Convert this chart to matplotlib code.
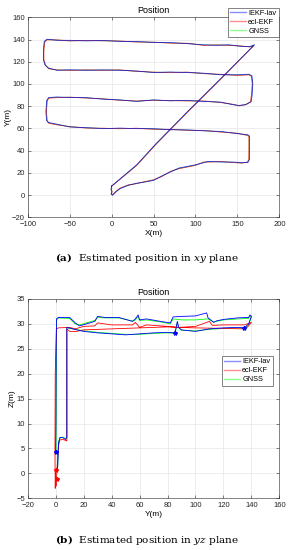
import matplotlib
matplotlib.use("Agg")
import matplotlib.pyplot as plt

plt.rcParams['font.family'] = ['Liberation Sans', 'DejaVu Sans']
plt.rcParams['mathtext.fontset'] = 'dejavuserif'

# ---------------- XY plane data ----------------
gnss_x = [0, -0.5, 0.5, -0.5, 1, 5, 10, 20, 30, 40, 50, 60, 70, 80, 90, 100, 110, 115, 130, 145, 155, 162, 164, 164, 164, 162,
          150, 130, 110, 90, 70, 50, 30, 10, -10, -30, -50, -65, -75, -77, -78, -77, -75, -65, -50, -30, -10, 10, 30, 50, 70, 90,
          110, 130, 145, 152, 160, 166, 167, 168, 167, 164, 150, 130, 110, 90, 70, 50, 30, 10, -10, -30, -50, -65, -75, -79, -81,
          -81, -80, -77, -65, -50, -30, -10, 10, 30, 50, 70, 90, 110, 125, 140, 155, 165, 170, 130, 90, 53, 30, 0]
gnss_y = [8, 5, 3, 1, 0, 3, 6, 9, 10.5, 12, 13.5, 17, 21, 24, 25.5, 27, 29.5, 30, 30, 29.5, 29, 29.5, 32, 45, 53, 54,
          55.5, 57, 58, 58.5, 59, 59.5, 60, 60, 60, 60.5, 61.5, 63.5, 65, 67, 75, 85, 87.5, 88, 88, 87.5, 86.5, 85.5, 84.5, 85.5, 85, 85,
          84.5, 83.5, 81.5, 80.5, 81.5, 84, 90, 100, 107, 108.5, 108, 108.5, 109.5, 110.5, 110.5, 110.5, 111.5, 112.5, 112.5, 112.5, 112.5, 112.5, 114, 117, 122,
          130, 138, 140, 139.5, 139, 139, 139, 138.5, 138, 137.5, 137, 136.5, 135, 135, 135, 134, 133.5, 135, 104.5, 74.5, 46, 27, 8]

iekf_x = [0, -0.6, 0.4, -0.4, 1.2, 5, 10, 20, 30, 40, 50, 60, 70, 80, 90, 100, 110, 115, 130, 145, 155, 162.5, 164.5, 164.5, 164.3, 162,
          150, 130, 110, 90, 70, 50, 30, 10, -10, -30, -50, -65, -75, -77.5, -78.3, -77.3, -75, -65, -50, -30, -10, 10, 30, 50, 70, 90,
          110, 130, 145, 152, 160, 166.5, 167.5, 168.3, 167.3, 164, 150, 130, 110, 90, 70, 50, 30, 10, -10, -30, -50, -65, -75, -79.5, -81.3,
          -81.3, -80.3, -77, -65, -50, -30, -10, 10, 30, 50, 70, 90, 110, 125, 140, 155, 165, 170.3, 130, 90, 53, 30, 0.3]
iekf_y = [8.3, 5.2, 2.8, 1.2, -0.2, 2.7, 5.8, 8.8, 10.7, 11.8, 13.2, 17.3, 20.7, 24.3, 25.8, 27.3, 29.2, 30.3, 29.8, 29.7, 29.3, 29.3, 32.5, 45, 53.3, 54.4,
          55.3, 57.3, 57.8, 58.7, 58.8, 59.8, 59.8, 60.3, 59.8, 60.7, 61.3, 63.8, 65.3, 67.2, 75, 85.3, 87.8, 88.3, 87.8, 87.7, 86.3, 85.7, 84.3, 85.7, 84.8, 85.3,
          84.3, 83.7, 81.3, 80.7, 81.3, 84.3, 90, 100, 107.3, 108.8, 108.3, 108.3, 109.7, 110.3, 110.8, 110.3, 111.7, 112.3, 112.7, 112.3, 112.8, 112.3, 114.3, 117.3, 122,
          130, 138.3, 140.3, 139.3, 139.3, 138.8, 139.2, 138.3, 138.3, 137.3, 137.3, 136.3, 135.3, 134.8, 135.3, 133.8, 133.7, 135.3, 104.8, 74.8, 46.3, 27.3, 8.3]

ecl_x = [0, -0.4, 0.6, -0.6, 0.8, 5, 10, 20, 30, 40, 50, 60, 70, 80, 90, 100, 110, 115, 130, 145, 155, 161.5, 163.5, 163.7, 163.7, 162,
         150, 130, 110, 90, 70, 50, 30, 10, -10, -30, -50, -65, -75, -76.7, -77.7, -76.7, -75, -65, -50, -30, -10, 10, 30, 50, 70, 90,
         110, 130, 145, 152, 160, 165.5, 166.7, 167.7, 166.7, 164, 150, 130, 110, 90, 70, 50, 30, 10, -10, -30, -50, -65, -75, -78.7, -80.7,
         -80.7, -79.7, -77, -65, -50, -30, -10, 10, 30, 50, 70, 90, 110, 125, 140, 155, 165, 169.7, 130, 90, 53, 30, -0.3]
ecl_y = [7.8, 4.8, 3.2, 0.8, 0.2, 3.3, 6.2, 9.2, 10.3, 12.2, 13.8, 16.7, 21.3, 23.7, 25.2, 26.7, 29.8, 29.7, 30.2, 29.3, 28.7, 29.7, 31.7, 45, 52.7, 53.6,
         55.7, 56.7, 58.2, 58.3, 59.2, 59.2, 60.2, 59.7, 60.2, 60.3, 61.7, 63.2, 64.7, 66.8, 75, 84.7, 87.2, 87.7, 88.2, 87.3, 86.7, 85.3, 84.7, 85.3, 85.2, 84.7,
         84.7, 83.3, 81.7, 80.3, 81.7, 83.7, 90, 100, 106.7, 108.2, 107.7, 108.7, 109.3, 110.7, 110.2, 110.7, 111.3, 112.7, 112.3, 112.7, 112.2, 112.7, 113.7, 116.7, 122,
         130, 137.7, 139.7, 139.7, 138.7, 139.2, 138.8, 138.7, 137.7, 137.7, 136.7, 136.7, 134.7, 135.2, 134.7, 134.2, 133.3, 134.7, 104.2, 74.2, 45.7, 26.7, 7.7]

# ---------------- YZ plane data ----------------
iekf_yy = [0.0, 0.2, 0.4, 0.6, 2, 10, 14, 17, 22, 28, 30, 35, 45, 55, 57, 59, 60, 65, 75, 82, 84, 90, 100, 108, 109, 110, 113, 115, 120, 130, 138, 139, 140,
           138, 135, 130, 120, 110, 100, 90, 88, 87, 86, 85, 80, 70, 60, 50, 40, 30, 20, 15, 8,
           8, 7, 5, 3, 2, 1.5, 1]
iekf_zz = [4.2, 10, 25, 31.0, 31.3, 31.3, 30.2, 29.6, 30.0, 30.5, 31.5, 31.3, 31.3, 30.5, 31.0, 31.8, 30.8, 31.0, 30.5, 30.2, 31.4, 31.5, 31.6, 32.2, 31.2, 31.0, 30.3, 30.6, 30.9, 31.2, 31.3, 31.8, 31.5,
           30.0, 29.2, 29.3, 29.2, 29.0, 28.5, 28.8, 29.3, 30.5, 29.0, 28.2, 28.3, 28.2, 28.0, 27.8, 28.0, 28.2, 28.5, 28.8, 29.3,
           7.3, 6.8, 7.2, 7.2, 6.0, 1.5, 0.8]

ecl_yy = [0.0, -0.3, -0.5, -0.3, 0.5, 2, 10, 14, 20, 28, 30, 40, 55, 57, 60, 65, 80, 88, 100, 108, 110, 112, 120, 135, 140,
          137, 135, 120, 100, 88, 80, 60, 40, 20, 15, 10, 8,
          8, 7.5, 5, 3, 2, 1, 0.5, 0.6]
ecl_zz = [0.5, -3.0, 5, 20, 29.0, 29.2, 29.3, 29.0, 29.5, 29.6, 30.2, 29.8, 29.8, 30.3, 29.3, 29.8, 29.5, 29.3, 29.5, 30.3, 30.5, 29.7, 29.8, 29.8, 30.3,
          29.3, 29.0, 29.1, 29.2, 29.3, 29.4, 29.2, 29.0, 28.8, 28.5, 28.5, 29.0,
          6.5, 6.6, 6.8, 6.7, 5.5, 1.0, -1.2, -2.5]

gnss_yy = [0.3, 0.4, 0.5, 0.7, 2, 10, 14, 17, 22, 28, 30, 35, 45, 55, 57, 59, 60, 65, 75, 82, 84, 90, 100, 108, 109, 110, 113, 115, 120, 130, 138, 139, 140,
           138, 135, 130, 120, 110, 100, 90, 88, 87, 86, 85, 80, 70, 60, 50, 40, 30, 20, 15, 8,
           8, 7, 5, 3, 2, 1.5, 1]
gnss_zz = [4.0, 12, 26, 30.8, 31.2, 31.1, 30.0, 29.8, 30.2, 30.7, 31.3, 31.2, 31.2, 30.6, 30.8, 31.5, 30.7, 30.8, 30.4, 30.0, 31.0, 30.8, 30.8, 31.0, 31.0, 30.8, 30.4, 30.5, 30.8, 31.0, 31.1, 31.6, 31.4,
           29.8, 29.1, 29.2, 29.1, 28.9, 28.6, 28.7, 29.2, 30.2, 28.9, 28.1, 28.2, 28.1, 27.9, 27.9, 28.1, 28.3, 28.6, 28.9, 29.2,
           7.0, 7.0, 7.3, 7.0, 6.2, 1.6, 1.0]

iekf_mark_y = [0.0, 85.5, 135]
iekf_mark_z = [4.2, 28.2, 29.2]
ecl_mark_y = [0.0, 0.8]
ecl_mark_z = [0.6, -1.2]

labels = ['IEKF-lav', 'ecl-EKF', 'GNSS']
colors = ['#0000ff', '#ff0000', '#00ff00']

fig = plt.figure(figsize=(2.93, 5.5), dpi=100)

def style(ax):
    ax.grid(True, color='#e6e6e6', linewidth=0.5)
    ax.set_axisbelow(True)
    ax.tick_params(direction='in', length=2, width=0.4, labelsize=5.5, colors='#262626')
    ax.tick_params(axis='x', pad=3)
    ax.tick_params(axis='y', pad=2)
    for s in ax.spines.values():
        s.set_linewidth(0.4)
        s.set_color('#262626')
    ax.tick_params(top=True, right=True, labeltop=False, labelright=False)

def legend(ax, x, y):
    h, l = ax.get_legend_handles_labels()
    leg = ax.legend(h[:3], l[:3], loc='upper right', bbox_to_anchor=(x / 293, 1 - y / 550), bbox_transform=fig.transFigure,
                    fontsize=5.3, frameon=True, fancybox=False, borderpad=0.3, handlelength=2.2, handletextpad=0.3,
                    labelspacing=0.25, borderaxespad=0)
    leg.get_frame().set_edgecolor('#262626')
    leg.get_frame().set_linewidth(0.4)
    leg.get_frame().set_alpha(1)
    for ln in leg.get_lines():
        ln.set_alpha(0.45)
        ln.set_linewidth(1.0)

lw = 0.6
ax1 = fig.add_axes([0.0945, 0.6049, 0.859, 0.3636])
ax1.plot(iekf_x, iekf_y, color=colors[0], lw=lw, label=labels[0], alpha=0.75, zorder=3)
ax1.plot(ecl_x, ecl_y, color=colors[1], lw=lw, label=labels[1], alpha=0.75, zorder=2.5)
ax1.plot(gnss_x, gnss_y, color=colors[2], lw=lw, label=labels[2], alpha=0.75, zorder=2.2)
ax1.set_xlim(-100, 200)
ax1.set_ylim(-20, 160)
ax1.set_xticks(range(-100, 201, 50))
ax1.set_yticks(range(-20, 161, 20))
style(ax1)
ax1.set_title('Position', fontsize=6.5, pad=3)
ax1.set_xlabel('X(m)', fontsize=6, labelpad=1)
ax1.set_ylabel('Y(m)', fontsize=6, labelpad=0)
legend(ax1, 278.5, 7.5)

ax2 = fig.add_axes([0.0945, 0.094, 0.859, 0.3624])
ax2.plot(iekf_yy, iekf_zz, color=colors[0], lw=lw, label=labels[0], zorder=3)
ax2.plot(ecl_yy, ecl_zz, color=colors[1], lw=lw, label=labels[1], zorder=2.5)
ax2.plot(gnss_yy, gnss_zz, color=colors[2], lw=lw, label=labels[2], zorder=2.2)
ax2.plot(iekf_mark_y, iekf_mark_z, ls='none', marker='*', ms=3, color=colors[0], zorder=4)
ax2.plot(ecl_mark_y, ecl_mark_z, ls='none', marker='*', ms=3, color=colors[1], zorder=4)
ax2.set_xlim(-20, 160)
ax2.set_ylim(-5, 35)
ax2.set_xticks(range(-20, 161, 20))
ax2.set_yticks(range(-5, 36, 5))
style(ax2)
ax2.set_title('Position', fontsize=6.5, pad=3)
ax2.set_xlabel('Y(m)', fontsize=6, labelpad=1)
ax2.set_ylabel('Z(m)', fontsize=6, labelpad=0)
legend(ax2, 272.5, 356)

fig.text(0.5, 1 - 258 / 550, r'$\mathbf{(a)}$  Estimated position in $xy$ plane', ha='center', va='center',
         fontsize=7.5, family='DejaVu Serif')
fig.text(0.5, 1 - 540 / 550, r'$\mathbf{(b)}$  Estimated position in $yz$ plane', ha='center', va='center',
         fontsize=7.5, family='DejaVu Serif')

fig.savefig('out.png', dpi=100)
